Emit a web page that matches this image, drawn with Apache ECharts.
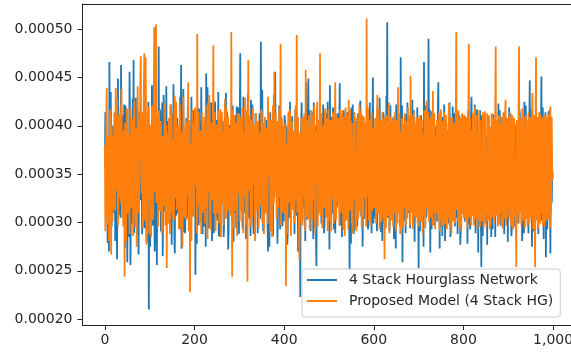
<!DOCTYPE html>
<html>
<head>
<meta charset="utf-8">
<script src="https://cdn.jsdelivr.net/npm/echarts@6/dist/echarts.min.js"></script>
<style>
  html, body { margin: 0; padding: 0; background: #fff; }
  #chart { width: 571px; height: 354px; }
</style>
</head>
<body>
<div id="chart"></div>
<script>
// loss per step (index = step), stored in units of 1e-4; axis labels convert back
const hourglassLoss = [
  3.56,4.14,4.10,3.15,3.21,3.87,2.79,3.44,3.88,2.70,4.66,3.69,3.35,4.35,3.72,2.96,2.98,4.00,3.61,3.10,
  3.44,3.81,4.02,2.81,3.15,4.05,3.79,2.62,3.27,4.49,3.96,3.28,3.08,3.97,3.67,3.05,4.63,3.55,3.32,4.11,
  3.85,3.20,3.12,4.22,3.58,2.73,4.21,3.66,2.96,3.93,2.59,3.49,3.74,2.85,3.40,4.56,4.05,2.56,3.18,3.79,
  3.62,2.99,4.28,3.39,4.68,2.89,3.05,4.08,3.49,4.29,3.91,3.09,2.87,4.16,3.70,2.67,3.36,3.92,4.14,3.23,
  3.22,3.89,3.83,2.88,3.01,4.11,3.57,4.37,4.19,2.94,3.29,4.01,3.95,2.80,2.92,3.77,3.66,4.25,2.10,3.60,
  3.48,2.75,3.90,3.73,3.14,4.42,4.07,2.97,3.38,4.13,3.76,2.70,2.83,4.45,3.53,3.25,2.56,3.95,3.99,3.34,
  4.82,3.58,3.26,4.17,3.69,2.91,3.03,4.00,4.24,2.65,3.45,4.32,3.87,3.17,3.11,3.85,3.60,4.41,3.34,4.05,
  4.01,3.29,3.17,4.03,3.78,3.02,2.95,4.22,3.52,2.77,4.12,3.76,3.30,4.43,3.84,2.86,2.68,4.13,3.63,3.07,
  3.41,4.08,3.97,3.12,3.09,3.87,3.71,2.93,4.30,3.45,4.63,2.73,3.24,4.14,3.58,4.38,2.90,3.66,3.81,2.89,
  3.36,3.79,4.08,3.04,3.19,4.21,3.64,3.37,2.99,3.98,3.93,2.83,3.46,4.30,3.73,3.13,3.07,4.06,4.16,3.44,
  3.55,4.16,2.46,3.65,3.86,2.78,3.28,4.19,3.67,2.97,4.18,3.31,3.02,4.05,3.50,4.40,3.80,3.09,2.88,3.81,
  3.94,2.96,3.33,4.09,3.70,2.75,4.54,3.73,3.12,4.40,3.59,3.23,2.94,3.97,4.03,2.99,3.43,4.24,3.77,2.81,
  3.20,3.93,3.89,2.89,3.48,4.16,4.25,3.28,3.06,4.06,3.65,3.02,3.37,4.35,2.86,3.68,3.92,2.85,3.54,4.11,
  4.11,3.42,3.23,4.05,3.75,2.85,2.97,3.85,3.62,3.13,4.34,3.55,3.15,4.14,3.81,2.72,2.91,4.01,3.68,3.25,
  3.39,3.98,4.06,3.07,3.27,4.21,3.56,2.80,3.99,3.45,3.10,4.11,3.72,2.94,4.20,3.60,3.31,4.19,3.85,2.88,
  3.47,4.13,4.75,3.21,3.13,3.95,3.66,2.96,2.93,4.30,3.90,3.10,3.52,3.77,4.09,2.83,3.25,4.08,3.61,4.33,
  3.78,3.09,3.04,4.03,3.57,2.86,4.27,3.69,3.35,4.22,3.82,2.99,2.88,3.89,3.69,3.33,4.13,3.60,3.22,4.00,
  3.60,2.89,3.95,3.47,3.18,4.13,3.74,3.04,4.87,3.76,3.42,4.37,3.86,2.91,3.08,3.95,3.53,3.13,4.02,3.81,
  3.30,4.06,3.71,2.97,2.70,3.73,3.88,2.75,3.45,4.14,4.15,3.26,3.00,4.01,3.63,2.86,3.79,4.32,3.26,4.13,
  4.56,3.37,3.37,3.97,3.92,2.78,3.11,3.84,3.58,4.21,4.22,2.93,3.29,4.09,3.70,3.23,2.96,3.90,3.84,3.01,
  3.51,4.11,4.04,3.12,3.20,4.00,3.67,2.77,2.92,3.81,3.97,3.05,3.40,4.25,3.76,3.39,3.14,3.95,4.10,3.25,
  3.32,3.93,3.87,2.88,3.55,4.17,4.18,3.15,3.07,4.03,3.64,2.70,3.38,3.82,3.91,2.97,2.23,3.73,3.74,4.24,
  3.46,3.02,4.00,3.65,3.16,4.09,3.83,2.81,3.34,4.45,3.68,3.10,3.03,3.95,4.49,3.37,3.27,4.16,3.59,2.91,
  3.89,3.34,3.21,4.14,3.73,2.83,4.24,3.58,2.94,4.00,3.50,2.86,2.55,3.85,3.80,3.07,3.43,4.05,3.96,3.17,
  3.12,4.08,3.66,2.99,4.08,3.52,3.36,4.22,3.77,2.89,2.98,3.98,3.60,3.23,4.13,3.76,3.24,4.25,3.85,3.31,
  3.54,2.72,4.42,3.79,3.09,4.09,3.71,3.09,3.31,4.19,3.93,2.93,3.47,4.01,2.89,3.50,3.82,3.15,3.19,4.13,
  3.98,3.23,3.40,4.03,4.44,2.97,3.02,3.85,3.62,2.85,3.88,3.57,3.15,4.16,3.75,3.05,4.05,3.63,3.28,3.97,
  3.57,4.14,3.17,3.69,3.90,3.12,2.51,3.97,3.69,2.78,4.19,3.47,3.33,4.22,3.79,2.88,2.95,4.05,3.63,3.28,
  3.44,3.84,4.07,2.96,3.22,4.13,3.85,3.13,3.52,4.21,4.26,3.33,3.06,3.98,3.70,2.75,3.39,3.90,3.94,3.04,
  3.11,4.01,3.78,3.15,3.49,4.11,4.02,2.93,2.97,3.87,3.61,4.24,3.25,3.34,3.87,2.89,3.56,4.09,4.50,2.99,
  3.35,3.93,3.72,3.09,3.04,4.06,3.95,2.91,3.42,4.11,4.16,3.20,3.19,4.29,3.67,3.41,2.90,3.81,3.83,2.81,
  3.58,4.14,4.11,2.99,3.28,4.03,3.76,3.26,4.31,3.82,5.07,3.05,3.46,3.97,3.89,2.91,3.13,4.21,3.64,3.36,
  4.03,3.09,3.37,4.08,3.71,2.83,2.93,3.93,3.55,2.73,4.22,3.74,3.20,4.16,3.84,3.17,3.48,4.05,3.97,2.96,
  4.71,3.50,3.30,4.21,2.59,3.81,3.80,3.02,3.09,4.09,3.68,2.89,4.12,3.65,3.41,4.24,3.74,3.10,3.16,4.03,
  3.62,2.94,3.99,3.60,3.26,4.01,4.27,3.31,2.99,4.16,3.57,2.80,3.34,3.90,3.90,3.13,3.07,4.19,3.73,3.25,
  2.53,3.85,3.86,2.91,3.45,4.11,4.06,3.10,3.21,3.98,3.69,2.75,4.66,3.52,3.38,4.21,3.81,3.05,3.12,4.08,
  3.54,3.26,4.90,3.81,3.29,4.17,2.69,3.47,3.77,2.93,4.15,3.63,3.03,4.06,3.63,2.97,3.92,3.41,3.40,4.00,
  3.66,3.01,3.18,4.14,4.45,3.25,3.51,2.73,3.87,3.39,2.96,4.03,3.59,2.86,4.09,3.74,3.32,4.22,3.78,2.81,
  3.43,4.05,4.01,3.15,3.14,3.93,3.72,2.99,3.36,4.24,3.94,2.85,3.01,4.00,3.65,3.31,4.20,3.55,3.27,4.13,
  3.83,2.96,3.49,4.19,3.05,3.76,3.76,2.88,4.14,3.49,3.23,4.11,3.58,2.77,2.92,3.95,3.89,3.12,3.61,3.81,
  3.37,4.01,3.95,3.01,3.19,3.89,4.04,3.29,3.53,2.78,3.80,4.16,2.98,3.66,3.70,2.93,3.44,4.09,4.30,3.18,
  3.10,3.76,3.74,3.13,3.39,4.22,3.91,2.89,3.25,4.05,4.17,3.20,3.47,2.69,3.82,3.61,3.06,4.16,3.57,3.05,
  2.54,4.11,3.68,2.86,4.08,3.44,3.31,4.03,3.86,2.99,3.15,3.90,3.62,2.77,3.96,3.33,3.35,4.08,3.79,2.94,
  3.46,3.97,2.85,3.69,3.73,2.93,4.12,3.47,3.22,4.06,3.60,2.85,3.93,3.34,3.09,4.01,3.71,3.10,4.23,3.57,
  3.28,4.16,3.84,2.97,3.52,3.90,3.97,3.09,3.04,3.97,3.67,2.88,3.40,4.11,4.06,3.21,3.17,4.05,3.75,2.80,
  3.59,3.05,4.19,3.55,3.33,4.13,3.88,2.86,2.94,3.93,3.64,3.25,3.26,4.03,3.90,2.96,3.50,3.84,4.02,3.17,
  3.13,3.98,3.77,2.99,3.45,4.17,4.10,3.23,3.37,3.79,3.81,2.81,3.00,4.08,3.69,2.89,4.25,3.60,3.30,4.21,
  3.65,3.10,3.21,4.05,3.92,2.89,3.48,3.95,4.47,3.29,3.11,4.16,3.58,2.75,3.86,3.42,2.91,4.01,3.72,2.97,
  3.42,4.09,4.00,3.17,3.16,3.85,3.79,2.88,3.34,4.06,3.96,3.31,3.07,3.98,4.51,3.02,3.25,4.19,3.63,2.83,
  3.87,3.04,3.38,4.14,2.64,3.61,3.70,2.93,3.20,4.01,4.15,3.13,3.47,4.17,2.68,3.66,3.81,3.20,3.55,3.47
];
const proposedLoss = [
  3.80,2.91,3.42,4.06,4.39,3.18,2.98,3.89,3.71,2.81,3.25,4.17,4.05,3.31,2.67,4.00,3.58,3.01,3.90,3.68,
  3.14,4.14,3.66,3.12,4.39,3.63,3.33,4.29,3.87,2.97,3.05,4.03,4.12,3.26,3.49,4.21,3.20,4.38,3.76,3.05,
  3.61,2.96,3.96,3.42,2.44,4.03,3.72,2.80,3.29,4.13,4.18,3.09,3.11,3.92,3.83,2.88,3.40,4.19,4.01,3.15,
  3.24,4.08,3.69,2.86,3.53,4.17,4.26,3.33,2.95,3.98,3.78,2.75,3.36,4.41,3.98,3.10,3.15,4.05,3.64,4.45,
  4.72,3.49,3.30,4.14,3.85,2.94,3.08,4.45,4.75,3.02,3.45,4.71,3.74,2.77,2.90,3.95,3.60,3.23,4.20,2.88,
  3.38,4.01,3.92,2.85,3.17,4.21,3.70,3.07,3.03,4.09,5.02,3.31,3.47,4.40,5.05,3.20,3.26,4.11,3.81,2.96,
  3.55,4.16,4.14,3.12,3.21,4.05,3.77,2.89,2.97,3.79,3.89,3.17,3.35,4.24,4.02,2.97,3.63,4.01,2.53,3.73,
  3.93,2.99,3.41,4.08,3.70,2.88,4.22,3.53,3.10,4.13,3.58,3.04,3.86,3.39,3.02,4.11,4.31,3.25,3.47,4.25,
  3.66,3.13,3.19,4.00,3.95,2.93,3.52,4.22,4.10,3.28,2.93,3.93,3.74,2.75,3.34,4.30,3.87,3.05,3.12,3.97,
  3.79,3.02,4.04,3.58,3.28,4.11,4.45,2.91,3.56,4.06,2.28,3.81,3.82,2.81,3.43,4.17,4.16,3.18,3.06,4.03,
  3.62,4.19,3.37,3.97,3.88,2.89,4.95,3.31,3.18,4.14,3.71,3.07,3.00,3.95,3.97,2.88,3.49,4.13,3.84,3.10,
  3.27,3.85,4.09,2.99,3.56,4.21,3.14,4.00,3.78,2.83,4.24,3.44,3.31,4.32,3.68,2.93,2.96,4.03,3.92,3.23,
  3.44,4.08,4.83,3.09,3.22,4.14,3.73,2.91,3.51,4.01,4.00,3.13,3.09,4.16,3.86,2.99,3.37,3.89,4.17,2.85,
  3.59,4.14,3.20,3.81,3.94,2.97,3.41,4.05,4.28,3.21,3.04,4.19,3.75,3.10,3.50,4.09,3.13,3.98,3.90,3.28,
  3.69,3.07,4.97,3.50,2.44,4.17,3.83,2.94,3.36,4.11,3.98,3.12,3.23,4.03,3.77,2.86,4.13,3.41,3.30,4.13,
  3.85,3.01,3.46,4.09,4.07,3.15,3.11,4.19,3.64,2.89,3.92,3.60,3.27,4.29,3.70,2.97,3.48,4.16,2.39,3.95,
  4.68,3.45,3.33,4.11,3.81,2.96,3.06,4.06,3.67,3.05,4.19,3.55,3.40,4.01,3.96,2.81,3.15,4.13,3.72,3.13,
  3.53,4.05,4.02,2.94,3.24,3.93,3.88,3.17,3.45,4.17,4.11,3.02,2.99,4.03,3.76,2.88,3.39,4.09,3.93,3.09,
  3.17,3.98,3.61,2.99,4.30,3.84,3.48,4.14,3.84,2.91,3.02,4.06,3.71,2.85,3.29,4.21,3.90,3.20,4.56,3.31,
  3.36,4.13,3.79,3.04,3.12,4.05,3.97,3.15,3.55,4.17,3.25,3.95,4.85,2.97,3.42,4.08,3.74,3.10,3.08,4.00,
  3.91,3.09,3.47,4.03,2.34,3.60,3.82,2.89,3.34,4.11,4.15,3.26,3.20,4.16,3.69,2.86,3.58,4.05,4.04,3.13,
  3.31,3.95,3.87,2.99,3.50,4.14,4.21,3.23,4.94,3.10,3.16,4.09,3.75,2.88,2.61,3.85,3.93,3.01,3.43,4.08,
  3.66,2.97,4.08,3.37,3.26,4.13,3.80,2.91,4.58,3.15,3.05,4.06,3.71,3.05,3.38,4.11,3.95,2.93,3.52,4.00,
  3.19,4.16,3.77,3.02,4.12,3.23,3.44,4.21,3.89,2.89,3.01,3.93,3.63,4.14,4.25,2.96,3.35,4.06,3.85,3.10,
  4.75,3.07,3.40,4.13,3.73,2.94,3.09,4.01,3.96,3.15,3.55,4.14,4.18,3.05,3.22,4.08,3.68,2.91,3.33,4.17,
  3.86,3.01,3.14,4.06,3.62,2.91,4.06,3.25,3.28,4.14,3.79,2.99,3.48,4.00,4.45,3.09,3.03,4.11,3.74,3.21,
  3.57,4.08,3.99,2.97,3.21,4.17,3.84,3.10,3.39,4.03,4.16,3.21,2.92,4.09,3.70,2.86,3.46,4.19,3.91,3.02,
  3.25,4.11,3.82,2.93,4.27,3.13,3.51,4.16,3.12,4.05,3.76,2.99,3.60,2.89,4.03,3.23,3.30,4.14,3.88,2.94,
  3.67,2.91,3.37,4.09,3.94,3.04,3.08,4.05,4.22,3.12,3.54,4.16,3.81,2.94,3.18,4.11,3.72,3.05,4.09,3.25,
  3.43,4.03,3.90,2.96,5.11,3.31,3.27,4.19,3.65,3.02,3.00,4.06,3.86,2.97,3.49,4.13,4.14,3.12,3.34,3.98,
  3.78,3.15,3.23,4.08,3.97,2.99,3.56,4.13,4.32,3.09,3.11,4.17,3.69,2.93,3.41,4.06,3.85,3.01,3.06,4.14,
  3.60,3.05,4.07,3.13,2.62,4.08,3.75,2.94,3.36,4.11,3.92,3.07,3.19,4.16,4.24,2.89,3.52,4.09,3.83,3.02,
  3.29,4.05,3.71,2.96,4.10,3.10,3.44,4.14,3.89,2.91,3.04,4.06,3.66,2.99,4.40,3.09,3.32,4.13,3.77,2.88,
  3.94,3.02,3.15,4.08,3.59,2.94,4.01,3.15,3.38,4.13,3.80,2.97,3.10,4.05,3.73,3.04,4.19,3.12,3.46,4.11,
  3.63,2.97,4.52,3.10,3.24,4.11,3.87,2.93,3.50,4.14,3.07,4.03,3.84,2.99,3.35,4.09,3.98,3.05,3.21,4.08,
  3.72,2.96,3.44,4.11,4.13,3.04,3.01,4.06,3.68,2.89,3.91,3.07,3.28,4.16,3.79,2.94,3.55,4.08,4.26,3.15,
  3.17,4.14,3.86,3.01,3.42,4.08,3.95,3.05,3.12,4.11,3.74,2.97,4.36,3.10,3.31,4.13,3.64,2.93,3.89,3.09,
  3.49,4.06,4.04,3.02,3.20,4.13,3.70,2.91,3.39,4.09,4.17,3.12,2.97,4.05,3.82,2.96,3.58,4.14,3.93,2.99,
  3.26,4.11,3.69,2.93,3.96,3.05,3.47,4.14,4.23,2.97,3.09,4.08,3.76,2.89,3.33,4.09,4.08,3.01,3.52,4.03,
  3.81,2.99,3.37,4.14,4.97,3.13,3.14,4.06,3.00,4.16,3.67,2.96,3.44,4.08,3.90,2.91,3.23,4.13,3.78,3.09,
  4.11,3.05,3.55,4.11,3.87,3.01,3.18,4.09,3.73,2.94,3.36,4.14,4.85,3.10,3.05,4.08,3.62,2.97,3.96,3.07,
  3.30,4.13,3.84,2.97,3.48,4.08,4.20,3.04,3.13,4.11,3.71,2.93,3.92,3.02,3.26,4.16,3.65,2.96,4.06,3.12,
  3.58,3.01,3.08,4.14,3.79,2.94,3.42,4.09,4.15,3.09,3.61,2.96,3.20,4.13,3.88,3.02,3.47,4.11,3.74,2.93,
  3.99,2.97,3.35,4.13,3.70,3.05,3.06,4.08,3.84,2.99,3.52,4.16,4.82,3.07,3.16,4.06,3.77,2.96,3.40,4.11,
  3.66,2.99,4.02,3.09,3.28,4.09,3.91,2.94,3.11,4.14,3.73,3.04,3.45,4.11,4.27,2.97,3.22,4.08,3.86,3.05,
  3.51,4.09,3.14,4.14,3.83,3.01,4.09,2.96,3.37,4.11,3.68,2.93,3.02,4.08,3.95,3.07,3.60,2.97,2.54,4.06,
  3.79,2.99,3.43,4.13,4.82,3.10,3.25,4.08,3.90,2.97,3.57,4.14,4.18,3.02,3.10,4.09,3.71,2.94,3.34,4.11,
  3.88,3.04,4.04,2.96,3.19,4.14,3.76,2.99,3.50,4.09,3.97,3.05,3.29,4.13,4.34,2.93,3.06,4.11,3.64,3.01,
  2.54,4.13,4.71,3.02,3.38,4.09,3.82,2.94,3.15,4.14,3.69,2.99,4.12,3.09,3.27,4.08,3.93,2.97,3.46,4.11,
  3.72,2.96,3.24,4.11,4.00,3.01,3.59,4.08,3.87,3.04,3.13,4.13,3.66,2.94,4.20,3.09,3.41,4.09,3.55,3.44
];
const xTicks = [0, 200, 400, 600, 800, 1000];
const yTicks = [2.0, 2.5, 3.0, 3.5, 4.0, 4.5, 5.0];
const seriesNames = ['4 Stack Hourglass Network', 'Proposed Model (4 Stack HG)'];
const seriesColors = ['#1f77b4', '#ff7f0e'];

const toPairs = arr => arr.map((v, i) => [i, v]);

const chart = echarts.init(document.getElementById('chart'));

const axisColor = '#222';
const labelStyle = { color: '#262626', fontFamily: 'DejaVu Sans', fontSize: 14 };

chart.setOption({
  animation: false,
  grid: {
    left: 82.5, top: 4, right: 0, bottom: 29,
    outerBoundsMode: 'none',
    show: false
  },
  legend: {
    orient: 'vertical',
    left: 302, top: 269,
    data: seriesNames,
    icon: 'rect',
    itemWidth: 30, itemHeight: 2, itemGap: 5,
    padding: [3, 7, 8, 5],
    backgroundColor: 'rgba(255,255,255,0.8)',
    borderColor: '#cccccc', borderWidth: 1, borderRadius: 3,
    textStyle: Object.assign({ lineHeight: 16, padding: [0, 0, 0, 7] }, labelStyle)
  },
  xAxis: [{
    type: 'value', min: -50, max: 1040,
    axisLine: { show: true, onZero: false, lineStyle: { color: axisColor } },
    axisTick: { customValues: xTicks, length: 5, lineStyle: { color: axisColor } },
    axisLabel: Object.assign({ customValues: xTicks, margin: 8 }, labelStyle),
    splitLine: { show: false }
  }, {
    // top spine only
    type: 'value', position: 'top', min: -50, max: 1040,
    axisLine: { show: true, onZero: false, lineStyle: { color: axisColor } },
    axisTick: { show: false }, axisLabel: { show: false }, splitLine: { show: false }
  }],
  yAxis: {
    type: 'value', min: 1.94, max: 5.26,
    axisLine: { show: true, onZero: false, lineStyle: { color: axisColor } },
    axisTick: { customValues: yTicks, length: 5, lineStyle: { color: axisColor } },
    axisLabel: Object.assign({
      customValues: yTicks, margin: 10,
      formatter: v => (v * 1e-4).toFixed(5)
    }, labelStyle),
    splitLine: { show: false }
  },
  series: [hourglassLoss, proposedLoss].map((arr, k) => ({
    name: seriesNames[k],
    type: 'line',
    data: toPairs(arr),
    showSymbol: false,
    symbol: 'none',
    color: seriesColors[k],
    lineStyle: { width: 1.8, color: seriesColors[k] }
  }))
});
</script>
</body>
</html>
